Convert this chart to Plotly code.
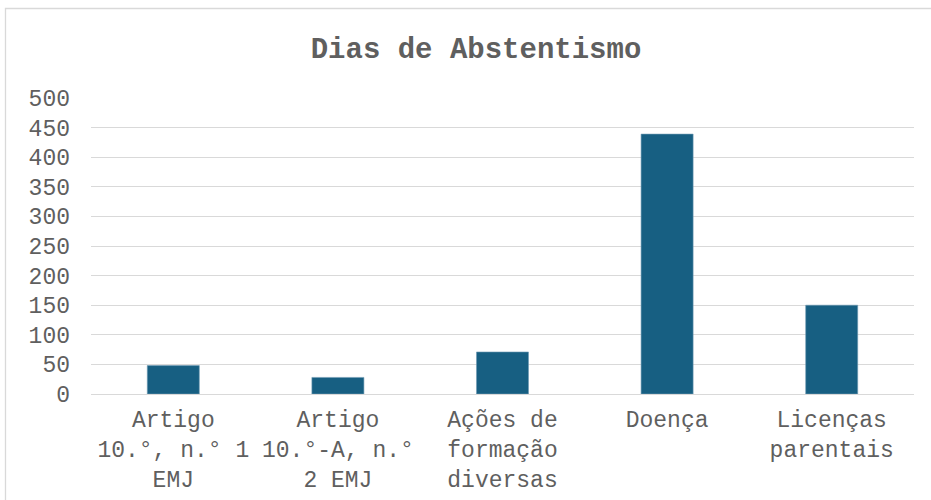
import plotly.graph_objects as go

categories = [
    "Artigo<br>10.°, n.° 1<br>EMJ",
    "Artigo<br>10.°-A, n.°<br>2 EMJ",
    "Ações de<br>formação<br>diversas",
    "Doença",
    "Licenças<br>parentais",
]
values = [48, 28, 71, 439, 150]
y_ticks = [0, 50, 100, 150, 200, 250, 300, 350, 400, 450, 500]
title_text = "Dias de Abstentismo"

FONT = "Courier New, Nimbus Mono PS, FreeMono, Liberation Mono, monospace"
GREY = "#5f5f5f"
GRID = "#d9d9d9"

W, H = 931, 500
L, R, T, B = 91, 17, 98, 106
pw, ph = W - L - R, H - T - B

fig = go.Figure(
    go.Bar(
        x=categories,
        y=values,
        marker=dict(color="#175f82", line=dict(color="#6f9bb3", width=0.6)),
        hoverinfo="x+y",
    )
)

fig.update_layout(
    width=W,
    height=H,
    margin=dict(l=L, r=R, t=T, b=B, autoexpand=False),
    paper_bgcolor="white",
    plot_bgcolor="white",
    bargap=0.684,
    showlegend=False,
    title=dict(
        text="<b>" + title_text + "</b>",
        x=476 / W,
        xanchor="center",
        xref="container",
        y=1 - 48 / H,
        yanchor="middle",
        yref="container",
        font=dict(family=FONT, size=29, color=GREY),
    ),
    font=dict(family=FONT, color=GREY),
    xaxis=dict(
        showgrid=False,
        showline=True,
        linecolor=GRID,
        linewidth=1.3,
        tickfont=dict(family=FONT, size=23, color=GREY),
        ticks="",
        ticklabelstandoff=4,
        fixedrange=True,
    ),
    yaxis=dict(
        range=[0, 500],
        tickvals=y_ticks,
        ticktext=[str(v) for v in y_ticks],
        showgrid=True,
        gridcolor=GRID,
        gridwidth=1.3,
        zeroline=True,
        zerolinecolor=GRID,
        zerolinewidth=1.3,
        showline=False,
        ticks="",
        ticklabelstandoff=20,
        tickfont=dict(family=FONT, size=23, color=GREY),
        fixedrange=True,
    ),
    shapes=[
        dict(
            type="rect",
            xref="paper",
            yref="paper",
            x0=(5.5 - L) / pw,
            x1=(W + 10 - L) / pw,
            y0=-(H + 10 - (T + ph)) / ph,
            y1=(T + ph - 8.5) / ph,
            line=dict(color=GRID, width=1.3),
            fillcolor="rgba(0,0,0,0)",
            layer="below",
        )
    ],
)

fig.write_html(
    "out.html",
    config={"displayModeBar": False},
    post_script="document.body.style.margin='0';document.body.style.overflow='hidden';",
)
